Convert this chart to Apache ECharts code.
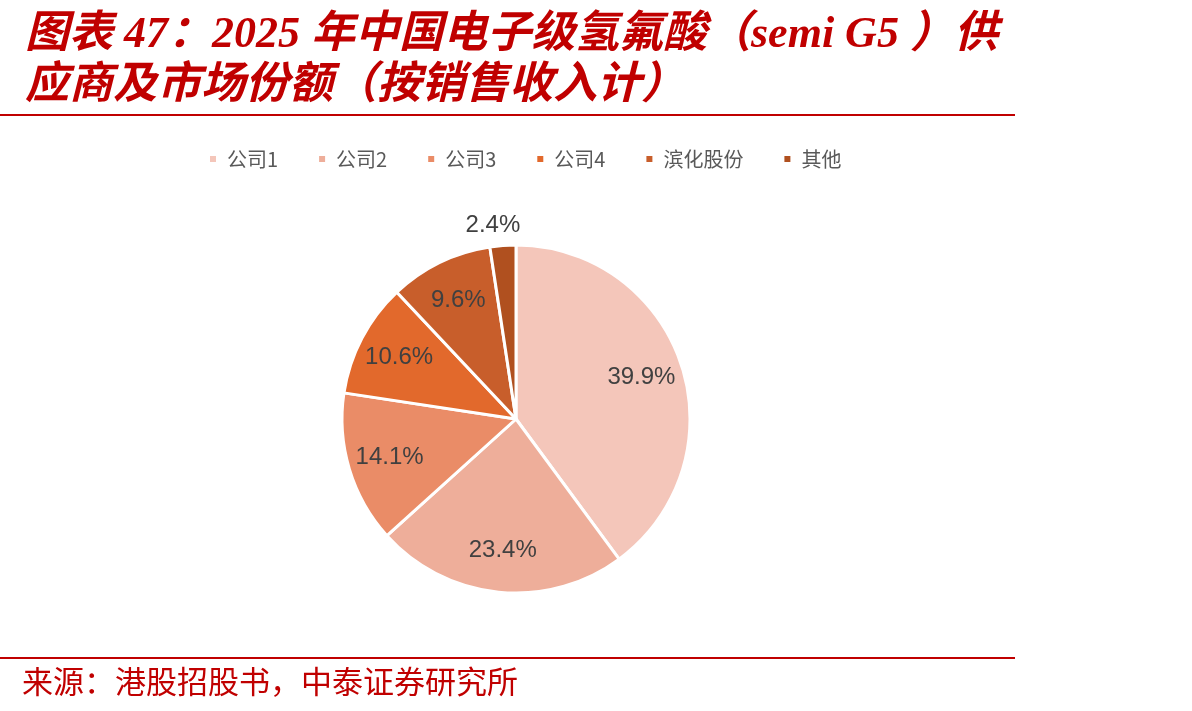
<!DOCTYPE html>
<html>
<head>
<meta charset="utf-8">
<script src="https://cdn.jsdelivr.net/npm/echarts@6/dist/echarts.min.js"></script>
<style>
  html, body { margin: 0; padding: 0; background: #fff; }
  #chart { width: 1192px; height: 711px; }
</style>
</head>
<body>
<div id="chart"></div>
<script>
// 数据
var names = ['公司1', '公司2', '公司3', '公司4', '滨化股份', '其他'];
var shares = [39.9, 23.4, 14.1, 10.6, 9.6, 2.4];
var colors = ['#F4C6BA', '#EEAE9A', '#EA8C67', '#E2692C', '#C85E2B', '#B0501F'];

var titleText = '图表 47：2025 年中国电子级氢氟酸（semi G5 ）供\n应商及市场份额（按销售收入计）';
var sourceText = '来源：港股招股书，中泰证券研究所';

function initShareChart() {
    var chart = echarts.init(document.getElementById('chart'));

    var pieData = names.map(function (n, i) {
        return {name: n, value: shares[i], itemStyle: {color: colors[i]}};
    });
    // 标签层：透明扇形，只负责把百分比放到约 0.75 半径处
    var labelData = names.map(function (n, i) {
        var d = {name: n, value: shares[i]};
        if (n === '其他') {
            d.label = {position: 'outside'};
            d.labelLine = {show: true, length: 8, length2: 0, lineStyle: {opacity: 0}};
        }
        return d;
    });

    var options = {
        animation: false,
        title: {
            text: titleText,
            left: 20,
            top: 5,
            textStyle: {
                color: '#C00000',
                fontSize: 44,
                fontWeight: 'bold',
                fontStyle: 'italic',
                fontFamily: '"Liberation Serif", "Noto Sans CJK SC", serif',
                lineHeight: 51
            }
        },
        legend: {
            data: names,
            top: 144,
            left: 203,
            icon: 'rect',
            itemWidth: 8,
            itemHeight: 8,
            itemGap: 39,
            textStyle: {
                color: '#595959',
                fontSize: 20,
                padding: [0, 0, 0, 5],
                fontFamily: '"Noto Sans CJK SC", sans-serif'
            }
        },
        graphic: [
            {type: 'line', shape: {x1: 0, y1: 115, x2: 1015, y2: 115}, style: {stroke: '#C00000', lineWidth: 2}},
            {type: 'line', shape: {x1: 0, y1: 658, x2: 1015, y2: 658}, style: {stroke: '#C00000', lineWidth: 2}},
            {
                type: 'text', left: 22, top: 666,
                style: {
                    text: sourceText,
                    fill: '#C00000',
                    fontSize: 31,
                    fontFamily: '"Noto Sans CJK SC", serif'
                }
            }
        ],
        series: [
            {
                type: 'pie',
                center: [516, 419],
                radius: [0, 174],
                startAngle: 90,
                clockwise: true,
                label: {show: false},
                labelLine: {show: false},
                itemStyle: {borderColor: '#fff', borderWidth: 3},
                emphasis: {disabled: true},
                data: pieData
            },
            {
                type: 'pie',
                center: [516, 419],
                radius: [84, 174],
                startAngle: 90,
                clockwise: true,
                silent: true,
                legendHoverLink: false,
                itemStyle: {color: 'rgba(0,0,0,0)'},
                label: {
                    show: true,
                    position: 'inside',
                    formatter: function (p) { return p.value.toFixed(1) + '%'; },
                    color: '#404040',
                    fontSize: 24,
                    fontFamily: '"Liberation Sans", Arial, sans-serif'
                },
                labelLayout: function (params) {
                    // 其他：标签放在扇形正上方
                    if (params.dataIndex === names.length - 1) {
                        return {dx: 23, dy: -12};
                    }
                },
                emphasis: {disabled: true},
                data: labelData
            }
        ]
    };

    chart.setOption(options);
}

initShareChart();
</script>
</body>
</html>
